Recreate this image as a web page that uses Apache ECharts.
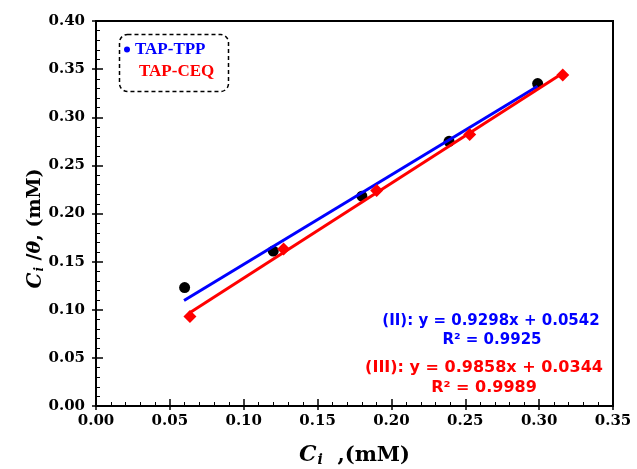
<!DOCTYPE html>
<html>
<head>
<meta charset="utf-8">
<script src="https://cdn.jsdelivr.net/npm/echarts@6/dist/echarts.min.js"></script>
<style>
  html, body { margin: 0; padding: 0; background: #fff; }
  #main { width: 637px; height: 469px; }
</style>
</head>
<body>
<div id="main"></div>
<script>
// 数据：从图上读取
const tppX = [0.060, 0.120, 0.180, 0.239, 0.299];
const tppY = [0.123, 0.161, 0.218, 0.275, 0.335];
const ceqX = [0.0636, 0.127, 0.190, 0.253, 0.316];
const ceqY = [0.093, 0.163, 0.224, 0.282, 0.344];
// 拟合直线两端点
const tppFitX = [0.0596, 0.299];
const tppFitY = [0.1096, 0.3322];
const ceqFitX = [0.0632, 0.3164];
const ceqFitY = [0.0967, 0.3463];
const xTicks = [0, 0.35, 0.05];
const yTicks = [0, 0.40, 0.05];

const zip = (xs, ys) => xs.map((x, i) => [x, ys[i]]);
const SERIF = 'DejaVu Serif';

/**
 * 生成一对坐标轴（内侧主刻度 + 外侧短刻度）
 */
function makeAxes(dim, ticks, label) {
  const [min, max, interval] = ticks;
  const main = {
    type: 'value', min: min, max: max, interval: interval, gridIndex: 0,
    position: dim === 'x' ? 'bottom' : 'left',
    axisLine: {show: true, lineStyle: {color: '#000', width: 2}},
    axisTick: {show: true, inside: true, length: 7, lineStyle: {color: '#000', width: 1.5}},
    minorTick: {show: true, splitNumber: 5, length: 4, lineStyle: {color: '#000', width: 1}},
    splitLine: {show: false},
    axisLabel: {
      show: true, margin: dim === 'x' ? 8 : 11,
      formatter: v => v.toFixed(2),
      fontFamily: SERIF, fontWeight: 'bold', fontSize: 15, color: '#000'
    },
    nameLocation: 'middle', nameMoveOverlap: false,
    name: label.name, nameGap: label.gap, nameTextStyle: label.style
  };
  const outer = {
    type: 'value', min: min, max: max, interval: interval, gridIndex: 0,
    position: dim === 'x' ? 'bottom' : 'left',
    axisLine: {show: false},
    axisTick: {show: true, inside: false, length: 4, lineStyle: {color: '#000', width: 1.5}},
    axisLabel: {show: false},
    splitLine: {show: false}
  };
  return [main, outer];
}

const nameRich = (size) => ({
  c: {fontFamily: SERIF, fontWeight: 'bold', fontStyle: 'italic', fontSize: size + 1, color: '#000'},
  s: {fontFamily: SERIF, fontWeight: 'bold', fontStyle: 'italic', fontSize: Math.round(size * 0.65), color: '#000',
    verticalAlign: 'bottom', padding: [9, 0, 0, 1]},
  t: {fontFamily: SERIF, fontWeight: 'bold', fontStyle: 'italic', fontSize: size, color: '#000'},
  n: {fontFamily: SERIF, fontWeight: 'bold', fontSize: size, color: '#000'}
});

const chart = echarts.init(document.getElementById('main'));
chart.setOption({
  backgroundColor: '#fff',
  animation: false,
  grid: {left: 96, top: 21, right: 24, bottom: 63, show: true, borderColor: '#000', borderWidth: 2,
    containLabel: false, outerBoundsMode: 'none'},
  xAxis: makeAxes('x', xTicks, {
    name: '{c|C}{s|i}{n|  ,(mM)}', gap: 38,
    style: {rich: nameRich(21)}
  }),
  yAxis: makeAxes('y', yTicks, {
    name: '{c|C}{s|i}{n| /}{t|θ}{n|, (mM)}', gap: 50,
    style: {rich: nameRich(19), padding: [0, 30, 0, 0]}
  }),
  legend: {
    orient: 'vertical', left: 124, top: 41, itemGap: 5, padding: 0,
    itemWidth: 6, itemHeight: 6,
    textStyle: {fontFamily: 'Liberation Serif', fontWeight: 'bold', fontSize: 17},
    data: [
      {name: 'TAP-TPP', icon: 'circle', itemStyle: {color: '#0000ff'}, textStyle: {color: '#0000ff'}},
      {name: 'TAP-CEQ', icon: 'circle', itemStyle: {color: 'rgba(0,0,0,0)'},
        textStyle: {color: '#ff0000', padding: [0, 0, 0, 4]}}
    ]
  },
  graphic: [
    {type: 'rect', left: 117, top: 32, shape: {width: 109, height: 57, r: 8},
      style: {fill: 'none', stroke: '#000', lineWidth: 1.5, lineDash: [4, 3]}, z: 10},
    {type: 'text', x: 491, y: 321, style: {text: '(II): y = 0.9298x + 0.0542', align: 'center', verticalAlign: 'middle',
      fill: '#0000ff', font: 'bold 15px "DejaVu Sans"'}},
    {type: 'text', x: 492, y: 340, style: {text: 'R² = 0.9925', align: 'center', verticalAlign: 'middle',
      fill: '#0000ff', font: 'bold 15px "DejaVu Sans"'}},
    {type: 'text', x: 484, y: 368, style: {text: '(III): y = 0.9858x + 0.0344', align: 'center', verticalAlign: 'middle',
      fill: '#ff0000', font: 'bold 16px "DejaVu Sans"'}},
    {type: 'text', x: 484, y: 388, style: {text: 'R² = 0.9989', align: 'center', verticalAlign: 'middle',
      fill: '#ff0000', font: 'bold 16px "DejaVu Sans"'}}
  ],
  series: [
    {name: 'TAP-TPP', type: 'scatter', symbol: 'circle', symbolSize: 11,
      itemStyle: {color: '#000', opacity: 1}, data: zip(tppX, tppY), z: 2},
    {name: 'fitTPP', type: 'line', data: zip(tppFitX, tppFitY), showSymbol: false,
      lineStyle: {color: '#0000ff', width: 3}, z: 3},
    {name: 'fitCEQ', type: 'line', data: zip(ceqFitX, ceqFitY), showSymbol: false,
      lineStyle: {color: '#ff0000', width: 3}, z: 3},
    {name: 'TAP-CEQ', type: 'scatter', symbol: 'diamond', symbolSize: 13,
      itemStyle: {color: '#ff0000', opacity: 1}, data: zip(ceqX, ceqY), z: 4}
  ]
});
</script>
</body>
</html>
